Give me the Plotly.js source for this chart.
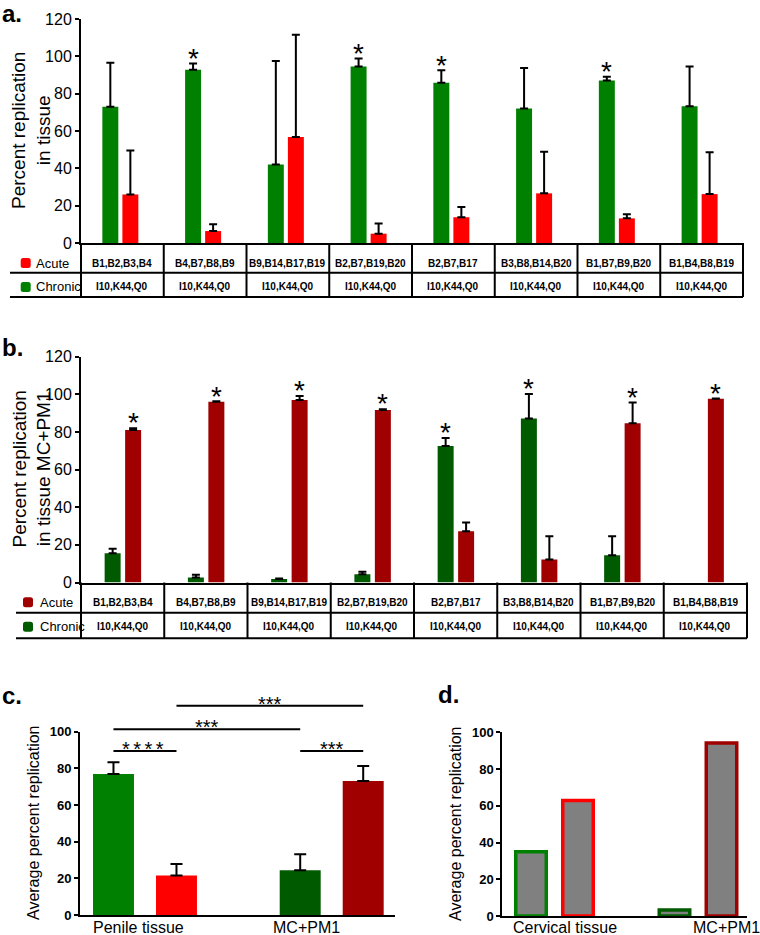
<!DOCTYPE html>
<html><head><meta charset="utf-8">
<script src="https://cdn.plot.ly/plotly-3.0.1.min.js"></script>
<style>html,body{margin:0;padding:0;background:#fff}#chart{width:760px;height:935px}</style>
</head><body><div id="chart"></div>
<script>
// ---------------- DATA ----------------
const groupsAcute = ['B1,B2,B3,B4','B4,B7,B8,B9','B9,B14,B17,B19','B2,B7,B19,B20','B2,B7,B17','B3,B8,B14,B20','B1,B7,B9,B20','B1,B4,B8,B19'];
const groupsChronic = ['I10,K44,Q0','I10,K44,Q0','I10,K44,Q0','I10,K44,Q0','I10,K44,Q0','I10,K44,Q0','I10,K44,Q0','I10,K44,Q0'];
const rowLabels = ['Acute','Chronic'];

// panel a: percent replication in tissue
const tissueChronic    = [73.0, 92.8, 42.0, 94.6, 85.9, 72.0, 87.1, 73.2];
const tissueChronicErr = [23.5,  3.4, 55.5,  4.3,  6.6, 21.7,  2.0, 21.3];
const tissueAcute      = [26.0,  6.4, 56.8,  5.0, 13.8, 26.6, 13.2, 26.2];
const tissueAcuteErr   = [23.6,  3.6, 54.8,  5.5,  5.5, 22.3,  2.2, 22.4];
const tissueStarChronic = [0,1,0,1,1,0,1,0];
const tissueStarAcute   = [0,0,0,0,0,0,0,0];

// panel b: percent replication in tissue MC+PM1
const mcChronic    = [15.6, 2.7, 1.8, 4.4, 72.6, 87.1, 14.5, null];
const mcChronicErr = [ 2.4, 1.4, 0.3, 1.3,  4.2, 13.1, 10.1, null];
const mcAcute      = [81.1, 96.0, 97.0, 91.7, 27.3, 12.2, 84.6, 97.6];
const mcAcuteErr   = [ 0.9,  0.3,  2.1,  0.4,  4.6, 12.4, 11.0,  0.2];
const mcStarChronic = [0,0,0,0,1,1,0,0];
const mcStarAcute   = [1,1,1,1,0,0,1,1];

// panel c: average percent replication
const avgGroups     = ['Penile tissue','MC+PM1'];
const avgChronic    = [76.9, 24.4];
const avgChronicErr = [6.4, 8.7];
const avgAcute      = [21.5, 73.1];
const avgAcuteErr   = [6.3, 8.2];
// bars in order: 0 penile chronic, 1 penile acute, 2 MC chronic, 3 MC acute
const sigFrom   = [0, 2, 0, 1];
const sigTo     = [1, 3, 2, 3];
const sigLabel  = ['****','***','***','***'];
const sigHeight = [89.5, 89.5, 101.3, 114.2];

// panel d: cervical tissue
const cervGroups  = ['Cervical tissue','MC+PM1'];
const cervChronic = [35.0, 3.3];
const cervAcute   = [62.9, 94.2];

// ---------------- STYLE / LAYOUT ----------------
const W = 760, H = 935;
const px = v => v / W;
const py = v => 1 - v / H;
const FONT = 'Arial, "Liberation Sans", sans-serif';
const GREEN = '#008000', RED = '#ff0000', DKGREEN = '#005a00', DKRED = '#a00000', GRAY = '#808080';
const STAR = 28;

const traces = [], annotations = [], shapes = [];

function roundRectPath(cx, cy, s, r) {
  const x0 = cx - s/2, x1 = cx + s/2, y0 = cy - s/2, y1 = cy + s/2;
  const P = (x, y) => px(x) + ',' + py(y);
  return 'M' + P(x0 + r, y0) + ' L' + P(x1 - r, y0) + ' Q' + P(x1, y0) + ' ' + P(x1, y0 + r) +
         ' L' + P(x1, y1 - r) + ' Q' + P(x1, y1) + ' ' + P(x1 - r, y1) +
         ' L' + P(x0 + r, y1) + ' Q' + P(x0, y1) + ' ' + P(x0, y1 - r) +
         ' L' + P(x0, y0 + r) + ' Q' + P(x0, y0) + ' ' + P(x0 + r, y0) + ' Z';
}

function panelAB(o) {
  const zeros = groupsAcute.map(() => 0);
  const errStyle = {type: 'data', symmetric: false, color: '#000', thickness: 2, width: 4};
  traces.push({type: 'bar', name: 'Chronic', x: groupsAcute, y: o.chronic, xaxis: o.xa, yaxis: o.ya,
    width: o.w, offset: o.gOff, marker: {color: o.cGreen, line: {width: 0}},
    error_y: Object.assign({array: o.chronicErr, arrayminus: zeros}, errStyle), hoverinfo: 'skip'});
  traces.push({type: 'bar', name: 'Acute', x: groupsAcute, y: o.acute, xaxis: o.xa, yaxis: o.ya,
    width: o.w, offset: o.rOff, marker: {color: o.cRed, line: {width: 0}},
    error_y: Object.assign({array: o.acuteErr, arrayminus: zeros}, errStyle), hoverinfo: 'skip'});
  const starShift = 11.5 - 0.2235 * STAR;
  groupsAcute.forEach((g, i) => {
    if (o.starC[i]) annotations.push({xref: o.xa, yref: o.ya, x: g, y: o.chronic[i] + (o.chronicErr[i] || 0),
      xshift: o.gShift, yshift: starShift, xanchor: 'center', yanchor: 'middle', text: '*', showarrow: false, font: {size: STAR, family: FONT, color: '#000'}});
    if (o.starA[i]) annotations.push({xref: o.xa, yref: o.ya, x: g, y: o.acute[i] + (o.acuteErr[i] || 0),
      xshift: o.rShift, yshift: starShift, xanchor: 'center', yanchor: 'middle', text: '*', showarrow: false, font: {size: STAR, family: FONT, color: '#000'}});
    annotations.push({xref: o.xa, yref: 'paper', x: g, y: py(o.acuteY), xanchor: 'center', yanchor: 'middle', text: '<b>' + groupsAcute[i] + '</b>',
      showarrow: false, font: {size: 10, family: FONT, color: '#000'}});
    annotations.push({xref: o.xa, yref: 'paper', x: g, y: py(o.chronicY), xanchor: 'center', yanchor: 'middle', text: '<b>' + groupsChronic[i] + '</b>',
      showarrow: false, font: {size: 10, family: FONT, color: '#000'}});
  });
  for (let i = 0; i < groupsAcute.length - 1; i++) {
    shapes.push({type: 'line', xref: o.xa, yref: 'paper', x0: i + 0.5, x1: i + 0.5, y0: py(o.top), y1: py(o.bottom), line: {color: '#000', width: 2}});
  }
  [0, 1].forEach(d => shapes.push({type: 'line', xref: o.xa + ' domain', yref: 'paper', x0: d, x1: d, y0: py(o.top), y1: py(o.bottom), line: {color: '#000', width: 2}}));
  [o.mid, o.bottom].forEach(yy => shapes.push({type: 'line', xref: 'paper', yref: 'paper', x0: px(o.leftX), x1: o.xDomain[1], y0: py(yy), y1: py(yy), line: {color: '#000', width: 2}}));
  [[rowLabels[0], o.acuteY, o.cRed], [rowLabels[1], o.chronicY, o.cGreen]].forEach(([lab, yy, col]) => {
    shapes.push({type: 'path', xref: 'paper', yref: 'paper', path: roundRectPath(o.markX, yy, 10, 2.5), fillcolor: col, line: {width: 0}});
    annotations.push({xref: 'paper', yref: 'paper', x: px(o.labelX), y: py(yy), xanchor: 'left', yanchor: 'middle', text: lab,
      showarrow: false, font: {size: 13, family: FONT, color: '#000'}});
  });
}

panelAB({xa: 'x', ya: 'y', chronic: tissueChronic, chronicErr: tissueChronicErr, acute: tissueAcute, acuteErr: tissueAcuteErr,
  starC: tissueStarChronic, starA: tissueStarAcute, cGreen: GREEN, cRed: RED,
  w: 0.193, gOff: -0.242, rOff: 0.0, gShift: -12, rShift: 8,
  top: 243, mid: 272.7, bottom: 297, leftX: 10, acuteY: 263, chronicY: 287, markX: 25.7, labelX: 33.5,
  xDomain: [px(81), px(743)]});

panelAB({xa: 'x2', ya: 'y2', chronic: mcChronic, chronicErr: mcChronicErr, acute: mcAcute, acuteErr: mcAcuteErr,
  starC: mcStarChronic, starA: mcStarAcute, cGreen: DKGREEN, cRed: DKRED,
  w: 0.192, gOff: -0.216, rOff: 0.03, gShift: -10, rShift: 10.5,
  top: 582.5, mid: 612.7, bottom: 638.3, leftX: 16, acuteY: 602.3, chronicY: 626.7, markX: 28, labelX: 37.5,
  xDomain: [px(81), px(747)]});

// ----- panel c -----
const idxC = avgGroups.map((_, i) => i);
const cCenter = 0.1687, cW = 0.2195;
const errC = {type: 'data', symmetric: false, color: '#000', thickness: 2, width: 6};
traces.push({type: 'bar', name: 'Chronic', x: idxC, y: avgChronic, xaxis: 'x3', yaxis: 'y3', width: cW, offset: -cCenter - cW/2,
  marker: {color: [GREEN, DKGREEN]}, error_y: Object.assign({array: avgChronicErr, arrayminus: [0, 0]}, errC), hoverinfo: 'skip'});
traces.push({type: 'bar', name: 'Acute', x: idxC, y: avgAcute, xaxis: 'x3', yaxis: 'y3', width: cW, offset: cCenter - cW/2,
  marker: {color: [RED, DKRED]}, error_y: Object.assign({array: avgAcuteErr, arrayminus: [0, 0]}, errC), hoverinfo: 'skip'});
const avgBarPos = [0 - cCenter, 0 + cCenter, 1 - cCenter, 1 + cCenter];
sigFrom.forEach((f, k) => {
  const xa = avgBarPos[f], xb = avgBarPos[sigTo[k]];
  traces.push({type: 'scatter', mode: 'lines', x: [xa, xb], y: [sigHeight[k], sigHeight[k]], xaxis: 'x3', yaxis: 'y5',
    line: {color: '#000', width: 2}, cliponaxis: false, hoverinfo: 'skip'});
  annotations.push({xref: 'x3', yref: 'y5', x: (xa + xb) / 2, y: sigHeight[k], xanchor: 'center', yanchor: 'middle', yshift: 2,
    text: sigLabel[k] === '****' ? '<span style="letter-spacing:3.5px">' + sigLabel[k] + '</span>' : sigLabel[k],
    showarrow: false, font: {size: 20, family: FONT, color: '#000'}});
});
const cLabelShift = [-6, -25];
avgGroups.forEach((g, i) => annotations.push({xref: 'x3', yref: 'paper', x: i, y: py(927), xshift: cLabelShift[i], xanchor: 'center', yanchor: 'middle',
  text: g, showarrow: false, font: {size: 16, family: FONT, color: '#000'}}));

// ----- panel d -----
const idxD = cervGroups.map((_, i) => i);
const dCenter = 0.1638, dW = 0.2125;
traces.push({type: 'bar', name: 'Chronic', x: idxD, y: cervChronic, xaxis: 'x4', yaxis: 'y4', width: dW, offset: -dCenter - dW/2,
  marker: {color: GRAY, line: {color: [GREEN, DKGREEN], width: 3.5}}, hoverinfo: 'skip'});
traces.push({type: 'bar', name: 'Acute', x: idxD, y: cervAcute, xaxis: 'x4', yaxis: 'y4', width: dW, offset: dCenter - dW/2,
  marker: {color: GRAY, line: {color: [RED, DKRED], width: 3.5}}, hoverinfo: 'skip'});
const dLabelShift = [10.5, 28];
cervGroups.forEach((g, i) => annotations.push({xref: 'x4', yref: 'paper', x: i, y: py(927), xshift: dLabelShift[i], xanchor: 'center', yanchor: 'middle',
  text: g, showarrow: false, font: {size: 16, family: FONT, color: '#000'}}));

// ----- titles / panel letters -----
const yTitle = (x, y, text, size) => annotations.push({xref: 'paper', yref: 'paper', x: px(x), y: py(y), xanchor: 'center', yanchor: 'middle',
  textangle: -90, text, showarrow: false, font: {size, family: FONT, color: '#000'}});
yTitle(31, 131, 'Percent replication<br>in tissue', 19);
yTitle(31, 469.5, 'Percent replication<br>in tissue MC+PM1', 19);
yTitle(33, 823, 'Average percent replication', 16);
yTitle(455, 824, 'Average percent replication', 16);
[['a.', 0, 13], ['b.', 0, 347], ['c.', 0, 695], ['d.', 436, 694]].forEach(([t, x, y]) =>
  annotations.push({xref: 'paper', yref: 'paper', x: px(x), y: py(y), xanchor: 'left', yanchor: 'middle', text: '<b>' + t + '</b>',
    showarrow: false, font: {size: 24, family: FONT, color: '#000'}}));

// ----- axes -----
const lineAx = {showline: true, linewidth: 2, linecolor: '#000', showgrid: false, zeroline: false, fixedrange: true};
const xCat = (domain, anchor) => Object.assign({type: 'category', domain, anchor, range: [-0.5, 7.5], showticklabels: false, ticks: ''}, lineAx);
const yAB = (domain, anchor) => Object.assign({domain, anchor, range: [0, 120], dtick: 20, ticks: 'outside', ticklen: 4, tickwidth: 2, tickcolor: '#000',
  tickfont: {size: 16, family: FONT, color: '#000'}}, lineAx);
const yCD = (domain, anchor) => Object.assign({domain, anchor, range: [0, 100], dtick: 20, ticks: 'outside', ticklen: 4, tickwidth: 2, tickcolor: '#000',
  tickfont: {size: 13, family: FONT, color: '#000', weight: 700}}, lineAx);

const layout = {
  width: W, height: H, margin: {l: 0, r: 0, t: 0, b: 0},
  paper_bgcolor: '#fff', plot_bgcolor: 'rgba(0,0,0,0)', showlegend: false,
  font: {family: FONT, color: '#000'},
  barmode: 'group',
  xaxis: xCat([px(81), px(743)], 'y'),
  yaxis: yAB([py(243), py(19)], 'x'),
  xaxis2: xCat([px(81), px(747)], 'y2'),
  yaxis2: yAB([py(582.5), py(356.7)], 'x2'),
  xaxis3: Object.assign({domain: [px(80), px(395)], anchor: 'y3', range: [-0.348, 1.339], showticklabels: false, ticks: ''}, lineAx),
  yaxis3: yCD([py(915), py(731.7)], 'x3'),
  yaxis5: {domain: [py(915), py(695)], anchor: 'x3', range: [0, 120], visible: false, fixedrange: true},
  xaxis4: Object.assign({domain: [px(502.3), px(746.7)], anchor: 'y4', range: [-0.3638, 1.3394], showticklabels: false, ticks: ''}, lineAx),
  yaxis4: yCD([py(916), py(732.3)], 'x4'),
  annotations, shapes
};

Plotly.newPlot('chart', traces, layout, {displayModeBar: false, staticPlot: true});
</script></body></html>
